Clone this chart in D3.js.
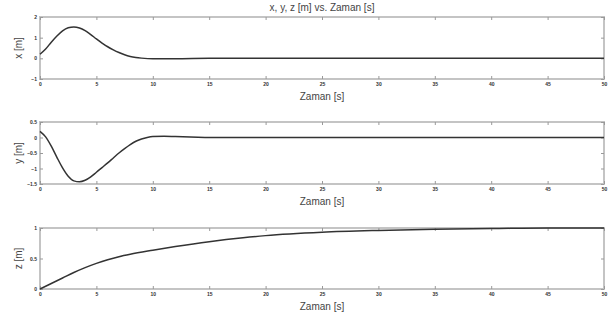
<!DOCTYPE html>
<html>
<head>
<meta charset="utf-8">
<script src="https://cdn.jsdelivr.net/npm/d3@7"></script>
<style>
  body { margin: 0; background: #fff; }
  svg { display: block; font-family: "Liberation Sans", Arial, sans-serif; }
</style>
</head>
<body>
<svg id="svg" width="614" height="320"></svg>
<script>
// time samples [s] and the three responses
const tX = [0, 0.5, 1, 1.5, 2, 2.5, 3, 3.5, 4, 4.5, 5, 5.5, 6, 6.5, 7, 7.5, 8, 8.5, 9, 10, 12, 15, 20, 30, 40, 50];
const xVals = [0.2, 0.45, 0.78, 1.08, 1.33, 1.48, 1.52, 1.47, 1.34, 1.15, 0.94, 0.74, 0.56, 0.41, 0.28, 0.17, 0.09, 0.04, 0.01, -0.02, -0.02, 0, 0, 0, 0, 0];

const tY = [0, 0.5, 1, 1.5, 2, 2.5, 3, 3.5, 4, 4.5, 5, 5.5, 6, 6.5, 7, 7.5, 8, 8.5, 9, 9.5, 10, 11, 12, 14, 16, 20, 30, 40, 50];
const yVals = [0.2, 0.02, -0.28, -0.64, -0.98, -1.25, -1.4, -1.43, -1.38, -1.27, -1.12, -0.97, -0.82, -0.66, -0.5, -0.36, -0.23, -0.12, -0.05, 0, 0.03, 0.04, 0.03, 0.01, 0, 0, 0, 0, 0];

const tZ = [0, 1, 2, 3, 4, 5, 6, 7, 8, 10, 12, 15, 18, 20, 25, 30, 35, 40, 45, 50];
const zVals = [0, 0.09, 0.18, 0.27, 0.35, 0.42, 0.48, 0.53, 0.57, 0.635, 0.695, 0.775, 0.84, 0.875, 0.93, 0.96, 0.98, 0.99, 1.0, 1.0];

const xTicks = [0, 5, 10, 15, 20, 25, 30, 35, 40, 45, 50];
const title = 'x, y, z [m] vs. Zaman [s]';
const xLabel = 'Zaman [s]';

const panels = [
  { t: tX, v: xVals, domain: [-1, 2], ticks: [-1, 0, 1, 2], label: 'x [m]', top: 17, bottom: 79 },
  { t: tY, v: yVals, domain: [-1.5, 0.5], ticks: [-1.5, -1, -0.5, 0, 0.5], label: 'y [m]', top: 122, bottom: 184 },
  { t: tZ, v: zVals, domain: [0, 1], ticks: [0, 0.5, 1], label: 'z [m]', top: 228, bottom: 289 }
];

const left = 40, right = 604;
const frameColor = '#c4c4c4';
const svg = d3.select('#svg');

const x = d3.scaleLinear().domain([0, 50]).range([left, right]);

svg.append('text')
  .attr('x', 322).attr('y', 11)
  .attr('text-anchor', 'middle')
  .style('font-size', '10px')
  .style('fill', '#444')
  .text(title);

panels.forEach(p => {
  const y = d3.scaleLinear().domain(p.domain).range([p.bottom, p.top]);
  const g = svg.append('g');

  g.append('rect')
    .attr('x', left).attr('y', p.top)
    .attr('width', right - left).attr('height', p.bottom - p.top)
    .attr('fill', 'none')
    .attr('stroke', frameColor)
    .attr('stroke-width', 2);

  const bottomAxis = g.append('g')
    .attr('transform', 'translate(0,' + p.bottom + ')')
    .call(d3.axisBottom(x).tickValues(xTicks).tickSize(-3).tickPadding(3));
  const topAxis = g.append('g')
    .attr('transform', 'translate(0,' + p.top + ')')
    .call(d3.axisTop(x).tickValues(xTicks).tickSize(-3).tickFormat(''));
  const leftAxis = g.append('g')
    .attr('transform', 'translate(' + left + ',0)')
    .call(d3.axisLeft(y).tickValues(p.ticks).tickSize(-3).tickPadding(3).tickFormat(d3.format('')));
  const rightAxis = g.append('g')
    .attr('transform', 'translate(' + right + ',0)')
    .call(d3.axisRight(y).tickValues(p.ticks).tickSize(-3).tickFormat(''));

  [bottomAxis, topAxis, leftAxis, rightAxis].forEach(a => {
    a.select('.domain').remove();
    a.selectAll('.tick line').attr('stroke', '#999');
    a.selectAll('.tick text')
      .style('font-size', '5px')
      .style('font-weight', 'bold')
      .attr('fill', '#333');
  });

  const line = d3.line()
    .x((d, i) => x(p.t[i]))
    .y(d => y(d))
    .curve(d3.curveMonotoneX);

  g.append('path')
    .datum(p.v)
    .attr('fill', 'none')
    .attr('stroke', '#333')
    .attr('stroke-width', 1.5)
    .attr('d', line);

  g.append('text')
    .attr('x', 322).attr('y', p.bottom + 21)
    .attr('text-anchor', 'middle')
    .style('font-size', '10px')
    .style('fill', '#444')
    .text(xLabel);

  g.append('text')
    .attr('transform', 'translate(22,' + (p.top + p.bottom) / 2 + ') rotate(-90)')
    .attr('text-anchor', 'middle')
    .style('font-size', '10px')
    .style('fill', '#444')
    .text(p.label);
});
</script>
</body>
</html>
